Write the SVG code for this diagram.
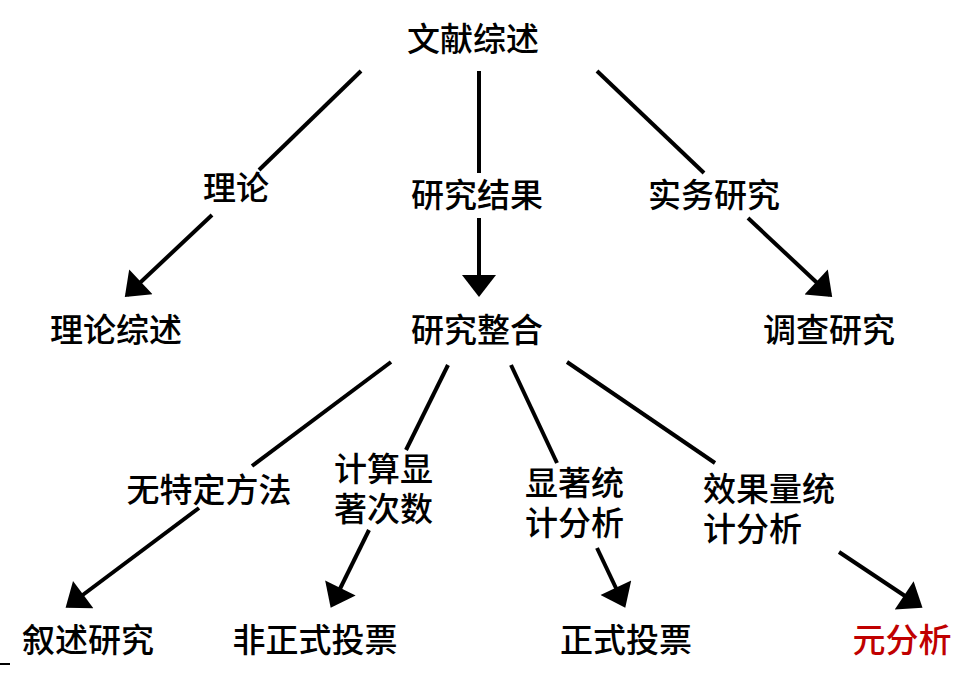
<svg xmlns="http://www.w3.org/2000/svg" width="976" height="673" viewBox="0 0 976 673">
<defs>
<marker id="ah" markerUnits="userSpaceOnUse" markerWidth="24" markerHeight="34" viewBox="0 0 22 34" refX="19" refY="17" orient="auto">
<path d="M0,0 L22,17 L0,34 z" fill="#000"/>
</marker>
<style>
text{font-family:"Noto Sans CJK SC","Noto Sans",sans-serif;font-size:33px;font-weight:500;fill:#000}
.c{text-anchor:middle}
.red{fill:#c00000}
.ln{stroke:#000;stroke-width:4;fill:none}
</style>
</defs>
<rect width="976" height="673" fill="#fff"/>
<g id="connectors">
<line class="ln" x1="361" y1="71" x2="259" y2="170"/>
<line class="ln" x1="212" y1="215" x2="127" y2="295" marker-end="url(#ah)"/>
<line class="ln" x1="479" y1="71" x2="479" y2="173"/>
<line class="ln" x1="479" y1="218" x2="479" y2="294" marker-end="url(#ah)"/>
<line class="ln" x1="597" y1="71" x2="704" y2="173"/>
<line class="ln" x1="748" y1="218" x2="830" y2="295" marker-end="url(#ah)"/>
<line class="ln" x1="391" y1="362" x2="252" y2="466"/>
<line class="ln" x1="199" y1="508" x2="68" y2="606" marker-end="url(#ah)"/>
<line class="ln" x1="448" y1="365" x2="406" y2="450"/>
<line class="ln" x1="369" y1="530" x2="332" y2="605" marker-end="url(#ah)"/>
<line class="ln" x1="511" y1="365" x2="557" y2="463"/>
<line class="ln" x1="597" y1="548" x2="624" y2="605" marker-end="url(#ah)"/>
<line class="ln" x1="567" y1="362" x2="715" y2="463"/>
<line class="ln" x1="839" y1="552" x2="920" y2="606" marker-end="url(#ah)"/>
<line x1="0" y1="664" x2="10" y2="664" stroke="#000" stroke-width="2"/>
</g>
<g id="n-root"><text class="c" x="473" y="51">文献综述</text></g>
<g id="l-theory"><text class="c" x="236" y="200">理论</text></g>
<g id="l-results"><text class="c" x="477" y="207">研究结果</text></g>
<g id="l-practice"><text class="c" x="714" y="207">实务研究</text></g>
<g id="n-theory-review"><text class="c" x="116" y="342">理论综述</text></g>
<g id="n-integration"><text class="c" x="477" y="342">研究整合</text></g>
<g id="n-survey"><text class="c" x="829" y="342">调查研究</text></g>
<g id="l-nomethod"><text class="c" x="209" y="502">无特定方法</text></g>
<g id="l-count"><text x="334" y="481">计算显<tspan x="334" dy="40">著次数</tspan></text></g>
<g id="l-sig"><text x="525" y="495">显著统<tspan x="525" dy="40">计分析</tspan></text></g>
<g id="l-effect"><text x="703" y="501">效果量统<tspan x="703" dy="40">计分析</tspan></text></g>
<g id="n-narrative"><text class="c" x="88" y="652">叙述研究</text></g>
<g id="n-informal"><text class="c" x="315" y="652">非正式投票</text></g>
<g id="n-formal"><text class="c" x="626" y="652">正式投票</text></g>
<g id="n-meta"><text class="c red" x="902" y="652">元分析</text></g>
</svg>
